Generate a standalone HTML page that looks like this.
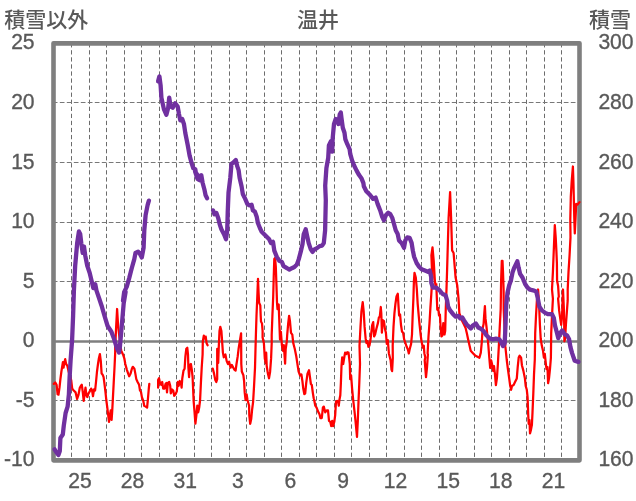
<!DOCTYPE html>
<html lang="ja"><head><meta charset="utf-8"><title>温井</title>
<style>
html,body{margin:0;padding:0;background:#fff;}
body{width:636px;height:501px;overflow:hidden;}
svg{display:block;}
text{font-family:"Liberation Sans","Noto Sans CJK JP",sans-serif;fill:#595959;}
.num{font-size:22px;stroke:#595959;stroke-width:0.35px;}
.jp{font-size:21px;font-weight:500;}
</style></head><body>
<svg width="636" height="501" viewBox="0 0 636 501">
<rect width="636" height="501" fill="#fff"/>

<g stroke="#6c6c6c" stroke-width="1" stroke-dasharray="4.3 2.76" fill="none" shape-rendering="auto">
<line x1="71.50" y1="43.15" x2="71.50" y2="460.4"/>
<line x1="89.50" y1="43.15" x2="89.50" y2="460.4"/>
<line x1="106.50" y1="43.15" x2="106.50" y2="460.4"/>
<line x1="124.50" y1="43.15" x2="124.50" y2="460.4"/>
<line x1="141.50" y1="43.15" x2="141.50" y2="460.4"/>
<line x1="159.50" y1="43.15" x2="159.50" y2="460.4"/>
<line x1="176.50" y1="43.15" x2="176.50" y2="460.4"/>
<line x1="194.50" y1="43.15" x2="194.50" y2="460.4"/>
<line x1="211.50" y1="43.15" x2="211.50" y2="460.4"/>
<line x1="229.50" y1="43.15" x2="229.50" y2="460.4"/>
<line x1="246.50" y1="43.15" x2="246.50" y2="460.4"/>
<line x1="264.50" y1="43.15" x2="264.50" y2="460.4"/>
<line x1="281.50" y1="43.15" x2="281.50" y2="460.4"/>
<line x1="299.50" y1="43.15" x2="299.50" y2="460.4"/>
<line x1="316.50" y1="43.15" x2="316.50" y2="460.4"/>
<line x1="334.50" y1="43.15" x2="334.50" y2="460.4"/>
<line x1="351.50" y1="43.15" x2="351.50" y2="460.4"/>
<line x1="369.50" y1="43.15" x2="369.50" y2="460.4"/>
<line x1="386.50" y1="43.15" x2="386.50" y2="460.4"/>
<line x1="404.50" y1="43.15" x2="404.50" y2="460.4"/>
<line x1="421.50" y1="43.15" x2="421.50" y2="460.4"/>
<line x1="439.50" y1="43.15" x2="439.50" y2="460.4"/>
<line x1="456.50" y1="43.15" x2="456.50" y2="460.4"/>
<line x1="474.50" y1="43.15" x2="474.50" y2="460.4"/>
<line x1="491.50" y1="43.15" x2="491.50" y2="460.4"/>
<line x1="509.50" y1="43.15" x2="509.50" y2="460.4"/>
<line x1="526.50" y1="43.15" x2="526.50" y2="460.4"/>
<line x1="544.50" y1="43.15" x2="544.50" y2="460.4"/>
<line x1="561.50" y1="43.15" x2="561.50" y2="460.4"/>
<line x1="52.8" y1="102.50" x2="579.5" y2="102.50" stroke="#787878" stroke-dasharray="4.7 2.3"/>
<line x1="52.8" y1="162.50" x2="579.5" y2="162.50" stroke="#787878" stroke-dasharray="4.7 2.3"/>
<line x1="52.8" y1="222.50" x2="579.5" y2="222.50" stroke="#787878" stroke-dasharray="4.7 2.3"/>
<line x1="52.8" y1="281.50" x2="579.5" y2="281.50" stroke="#787878" stroke-dasharray="4.7 2.3"/>
<line x1="52.8" y1="400.50" x2="579.5" y2="400.50" stroke="#787878" stroke-dasharray="4.7 2.3"/>
</g>
<rect x="53.5" y="43.35" width="526.0" height="417.0" fill="none" stroke="#7f7f7f" stroke-width="4.6" stroke-linejoin="round"/>
<line x1="53.5" y1="341.45" x2="579.5" y2="341.45" stroke="#7f7f7f" stroke-width="2.6"/>
<g fill="none" stroke="#ff0000" stroke-width="2.25" stroke-linejoin="round" stroke-linecap="round">
<polyline points="53.8,383.9 55.3,382.5 56.6,384.8 57.6,394.3 58.5,394.7 59.5,387.7 60.4,379.1 61.4,371.5 62.3,365.9 62.9,362.1 63.6,367.7 64.2,363.0 65.2,359.2 66.1,364.0 67.4,365.9 68.4,370.6 69.9,376.3 71.2,380.1 72.2,388.6 73.7,390.5 75.6,392.4 77.1,399.0 78.4,395.2 79.8,387.7 80.9,385.8 81.8,384.8 82.8,392.4 83.7,400.9 84.7,393.3 85.5,387.7 86.4,395.2 87.3,397.1 88.5,393.3 89.8,391.4 91.1,388.6 92.1,390.5 93.0,396.2 94.0,389.5 95.1,390.5 96.1,381.0 97.0,371.5 98.0,364.0 98.9,358.3 99.9,354.1 100.8,361.1 101.6,373.4 102.5,374.4 103.6,377.2 104.6,384.8 105.5,392.4 106.3,400.0 107.3,407.6 108.2,415.1 109.0,421.8 109.7,416.1 110.7,410.4 111.6,419.9 112.2,411.4 112.9,398.1 113.7,382.9 114.5,367.7 115.2,352.6 115.2,346.9 116.1,327.9 117.1,309.0 118.0,324.1 119.0,333.6 119.9,341.2 121.2,350.7 123.0,354.5 124.3,358.3 125.3,364.0 126.8,369.6 128.1,373.4 129.2,376.3 130.6,373.4 131.9,368.7 132.8,366.8 134.4,368.7 135.3,373.4 136.3,379.1 137.6,382.0 139.1,384.8 140.0,390.5 141.0,392.0 141.9,397.1 143.3,400.9 144.2,405.7 145.7,406.6 147.1,407.6 148.0,398.1 148.8,388.6 149.3,383.9"/>
<polyline points="158.1,387.7 158.1,380.1 159.0,378.2 160.0,382.9 161.3,384.8 162.2,382.0 163.2,388.6 164.5,388.6 165.5,383.9 166.4,382.9 167.0,392.4 167.9,382.9 169.2,382.0 170.2,385.8 170.8,393.3 172.1,389.5 173.2,390.5 174.2,395.8 175.5,394.3 176.8,391.4 177.8,382.0 178.7,385.8 179.7,381.0 180.8,382.0 181.6,387.7 182.3,378.2 183.5,370.6 184.6,368.7 185.4,356.4 186.3,348.8 187.3,347.8 188.0,354.5 188.4,367.7 189.1,377.2 189.9,364.9 190.9,364.0 191.8,369.6 192.6,377.2 193.1,388.6 193.7,401.9 194.5,411.4 195.4,423.7 196.4,415.1 197.3,405.7 198.2,412.3 199.2,407.6 200.1,400.0 200.9,382.9 201.7,367.7 202.6,354.5 202.8,341.4 203.8,335.7 204.7,338.5 205.7,336.6 206.6,343.3 207.6,345.2"/>
<polyline points="212.8,368.7 214.0,373.4 215.3,380.1 216.3,382.0 217.2,379.1 217.2,348.8 218.2,363.0 218.7,348.8 219.5,331.0 220.3,326.8 221.4,331.0 222.9,352.6 223.8,357.3 225.4,354.5 226.7,361.1 228.0,364.0 229.1,361.7 230.5,367.7 231.8,364.9 233.3,367.7 234.3,369.6 235.6,370.6 236.5,364.0 237.7,356.4 238.6,348.8 241.1,333.3 241.3,364.0 241.8,371.5 243.4,375.3 244.1,381.0 244.7,392.4 245.6,400.0 246.6,394.3 247.5,400.0 249.1,405.7 249.3,415.3 250.2,423.8 251.2,419.1 252.1,409.6 253.1,402.0 254.0,386.9 255.0,367.9 255.5,349.0 255.9,334.8 256.5,315.8 257.3,296.9 258.0,278.9 258.6,293.1 259.1,302.6 260.3,305.4 260.7,315.8 261.0,321.5 262.0,323.4 262.6,331.0 262.6,337.6 263.9,343.3 264.8,358.4 265.8,363.2 266.2,352.7 266.7,366.0 267.9,373.6 269.0,378.3 270.1,371.7 271.1,358.4 271.7,343.3 271.7,334.8 272.4,315.8 273.2,296.9 273.7,277.9 274.3,259.0 275.1,258.0 275.8,266.5 276.4,283.6 277.0,302.6 277.5,309.2 278.7,304.5 279.1,315.8 279.6,329.1 280.0,339.5 280.9,331.9 281.9,345.2 283.0,350.9 283.8,345.2 284.5,354.6 285.1,363.7 285.7,349.0 286.8,341.4 287.2,334.8 288.2,323.4 289.1,315.8 290.0,321.5 291.0,332.9 292.3,334.7 293.3,343.3 294.8,349.0 296.3,356.5 297.6,365.1 298.6,371.7 300.1,375.5 301.4,374.5 302.4,381.2 303.3,388.8 304.3,394.1 305.2,393.5 306.2,383.1 307.5,373.6 309.0,370.2 310.0,377.4 310.9,384.0 311.8,385.0 312.8,392.6 313.7,398.2 314.2,400.0 315.3,405.7 316.6,407.6 318.0,411.4 319.5,414.2 320.4,418.0 321.8,418.0 322.9,407.6 323.8,406.6 325.2,412.3 326.7,410.4 328.0,410.4 329.0,420.8 330.3,421.8 331.2,426.1 332.2,420.8 333.1,426.1 334.3,421.8 335.2,415.1 336.0,401.9 337.1,400.9 338.1,401.9 338.8,405.7 339.4,400.0 340.3,395.2 340.9,382.9 341.5,365.9 342.2,357.3 343.2,364.0 344.1,358.3 345.1,352.6 346.4,354.1 347.3,352.2 348.5,352.6 349.2,358.3 349.8,364.0 350.2,379.1 351.1,375.3 352.1,388.6 353.2,400.0 354.5,411.4 355.5,420.8 356.4,430.3 357.0,436.9 357.8,420.8 358.5,401.9 359.3,382.9 360.0,364.0 359.5,345.8 360.5,326.9 361.4,311.7 362.7,302.2 363.7,311.7 364.6,326.9 365.6,338.2 366.5,343.0 367.5,341.1 368.4,346.8 369.4,345.8 370.3,341.1 371.3,332.6 372.2,325.0 373.2,322.1 374.1,336.4 375.1,334.5 376.4,328.8 377.9,323.1 378.9,317.4 379.8,316.4 380.8,307.0 381.3,313.6 381.9,332.6 382.7,320.2 384.0,321.2 384.9,328.8 385.9,332.6 386.8,343.9 387.8,340.1 388.9,353.4 390.6,360.2 391.5,369.6 392.1,371.2 392.8,358.3 392.7,345.8 393.5,326.9 394.4,313.6 395.4,304.1 396.5,296.5 397.8,293.7 398.4,304.1 399.1,315.5 400.1,314.5 401.0,325.0 402.0,331.6 403.1,332.6 404.1,339.2 405.4,343.0 406.7,346.8 407.9,349.6 408.8,353.4 409.8,348.7 411.1,343.9 412.0,334.5 412.6,317.4 413.4,298.4 413.9,281.4 414.5,272.8 415.8,277.6 416.8,289.0 417.7,304.1 418.7,315.5 419.6,325.0 420.6,334.5 421.5,341.1 422.8,347.7 423.8,345.8 424.4,353.4 425.3,357.2 424.7,360.2 426.0,377.2 427.0,367.7 427.9,354.5 427.6,353.4 428.5,336.4 429.5,323.1 430.4,307.9 431.4,292.7 432.3,277.6 431.4,255.5 432.5,247.4 433.7,260.5 434.8,279.5 435.4,285.2 436.3,284.2 436.7,294.6 437.3,309.8 438.2,307.9 439.0,315.5 439.9,314.5 440.5,325.0 441.4,336.4 442.4,335.4 443.3,323.1 443.9,325.0 444.5,334.5 445.2,330.7 445.8,307.9 446.5,289.0 447.1,270.0 448.6,217.7 450.1,192.1 451.1,217.7 452.1,250.4 453.6,253.0 455.6,277.6 457.2,285.2 458.5,298.4 459.4,313.6 459.9,314.6 461.8,320.3 463.7,324.1 465.6,327.9 466.9,333.6 468.1,339.3 469.4,345.0 470.7,350.7 473.2,353.5 475.1,355.4 477.0,356.4 479.4,357.7 480.8,352.6 481.7,343.1 482.7,327.9 483.6,324.1 484.2,314.6 484.9,306.1 485.5,318.4 486.4,326.0 487.4,335.5 488.3,345.0 489.3,357.6 490.2,368.0 491.2,360.4 492.1,364.2 493.1,370.9 494.0,366.1 495.0,374.6 495.9,385.1 496.9,378.4 497.8,365.2 498.8,346.9 499.7,327.9 500.7,309.0 501.1,280.8 501.8,260.8 502.5,260.8 503.0,272.1 503.6,289.5 503.7,309.0 504.5,327.9 505.4,346.9 506.7,359.5 507.9,369.0 509.2,378.4 510.1,385.1 511.1,389.8 512.0,386.0 513.6,385.1 514.9,382.2 516.8,378.4 517.7,367.1 518.7,357.6 519.6,355.7 521.1,357.6 521.9,365.2 523.4,370.9 524.9,378.4 525.7,386.0 526.8,389.8 527.6,397.4 528.2,414.5 528.7,423.9 529.5,420.1 530.0,433.4 531.0,429.6 531.9,424.9 532.5,412.6 533.3,393.6 534.0,374.6 534.8,359.5 535.2,333.4 536.0,316.1 536.9,300.4 538.1,289.5 539.2,307.4 539.9,324.8 540.7,338.7 541.8,345.6 543.0,350.8 543.9,357.6 544.8,353.8 545.8,363.3 546.5,369.0 547.5,367.1 548.1,383.2 549.0,378.4 550.0,369.0 550.9,357.6 551.2,333.4 552.0,316.1 552.9,298.7 552.0,289.5 552.9,272.1 553.6,254.8 554.3,237.4 554.8,225.2 555.7,237.4 556.4,251.3 556.9,263.4 557.1,280.8 558.1,286.0 558.8,296.5 558.1,298.7 559.2,310.9 560.4,319.5 561.2,324.8 562.1,316.1 562.6,298.7 563.0,289.5 563.8,307.4 564.2,324.8 564.4,341.3 565.1,338.7 565.9,324.8 566.8,312.6 567.7,300.4 567.7,289.5 568.5,272.1 569.6,254.8 570.5,237.4 570.3,219.5 570.8,196.9 571.7,181.3 572.9,166.5 573.4,181.3 573.9,202.1 574.4,223.0 574.8,233.4 575.5,219.5 576.2,203.9 577.4,204.7 579.5,202.1"/>
</g>
<g fill="none" stroke="#7030a0" stroke-width="4.3" stroke-linejoin="round" stroke-linecap="round">
<polyline points="54.6,449.3 56.5,452.5 58.4,455.0 59.8,451.0 60.4,438.0 62.8,434.5 63.8,425.5 65.6,413.0 67.6,406.7 68.9,394.1 69.6,377.7 70.6,360.1 72.1,340.0 73.1,315.8 73.9,290.6 75.2,265.5 77.2,242.8 78.9,231.5 80.2,234.0 81.4,244.1 82.7,252.9 84.0,246.6 85.2,255.4 87.2,265.5 89.7,273.0 91.5,280.6 93.3,288.1 95.3,284.3 96.5,290.6 99.1,298.2 101.6,305.7 104.1,314.5 107.6,326.0 111.4,331.7 114.2,339.3 117.1,348.8 119.0,352.6 119.9,346.9 120.9,335.5 122.4,318.4 123.7,303.3 125.6,291.9 123.0,300.7 124.2,291.9 126.7,286.9 129.2,278.1 131.8,268.0 134.3,259.2 135.5,252.9 138.1,251.6 140.1,254.2 141.8,257.4 143.6,247.9 144.3,230.3 145.6,215.2 147.6,205.1 148.9,200.6"/>
<polyline points="158.1,81.4 159.4,76.4 160.6,85.2 161.4,97.7 163.9,109.1 166.4,114.8 168.2,107.8 169.2,97.7 170.7,106.5 172.7,107.8 175.2,103.3 177.7,106.5 179.0,114.1 180.3,120.4 182.3,119.1 184.0,124.2 185.3,133.0 187.8,145.5 189.6,155.6 191.6,163.1 193.3,168.2 195.3,169.4 196.6,177.0 198.4,179.5 200.4,175.7 201.6,180.8 195.0,171.4 197.5,178.9 199.6,180.2 201.3,175.2 202.6,182.7 204.6,190.3 205.6,195.3 207.1,198.3"/>
<polyline points="213.1,210.4 214.4,214.2 216.4,212.9 218.2,217.9 219.7,224.2 221.4,229.2 224.0,234.3 226.0,239.3 227.2,230.5 227.7,212.9 228.5,192.8 230.3,177.7 231.5,163.8 233.3,162.6 235.8,160.1 237.3,166.4 238.6,170.1 239.6,177.7 241.6,186.5 242.8,194.0 245.3,199.1 247.4,204.1 249.1,205.3 251.6,204.8 252.9,210.4 254.9,211.6 256.7,216.7 257.9,223.0 259.9,228.0 261.7,231.8 264.2,234.3 266.7,236.8 269.2,239.3 271.0,243.1 273.0,241.8 274.3,250.6 276.8,256.9 279.3,260.7 281.8,261.9 283.6,266.2 286.9,268.2 289.4,269.5 291.9,268.2 294.4,267.0 296.9,264.5 298.7,259.4 300.7,251.9 302.5,244.3 303.7,234.3 305.7,229.2 307.0,235.5 308.7,243.1 310.8,249.4 312.5,251.9 314.5,249.4 317.0,248.1 319.6,246.1 322.1,245.6 323.8,243.1 325.1,230.5 325.8,200.3 325.2,185.7 326.4,168.1 328.2,158.0 328.9,145.4 330.7,141.6 332.2,151.7 332.7,137.9 334.0,124.0 335.7,119.0 337.7,121.5 338.5,124.0 339.7,114.5 340.8,112.5 341.5,118.2 342.8,127.8 344.5,132.8 345.3,139.1 347.3,144.2 349.6,149.2 350.3,154.2 352.1,160.5 354.1,165.5 356.6,170.6 359.1,175.1 361.6,178.6 363.4,183.1 363.8,186.3 366.3,191.3 370.1,195.1 373.1,198.9 375.6,197.6 377.6,203.9 380.1,210.2 382.1,216.5 383.9,220.3 385.9,215.2 388.2,212.7 390.2,214.0 392.2,217.7 394.0,224.0 395.7,230.3 397.7,234.1 399.0,240.4 401.5,242.9 404.0,247.9 405.3,240.4 407.3,237.4 409.6,237.9 411.6,242.9 412.8,250.4 414.1,256.7 416.6,263.0 419.1,266.8 421.6,269.3 424.9,270.6 427.9,271.8 429.7,270.6 431.2,276.9 431.3,282.7 433.0,287.7 436.3,287.7 439.6,290.3 442.6,294.0 445.6,295.3 447.1,300.3 448.1,306.6 450.1,310.4 453.1,314.2 455.7,316.7 458.2,315.9 460.2,318.4 462.2,317.4 464.0,320.4 466.5,324.2 469.0,326.7 470.8,328.5 472.8,325.5 475.8,323.5 478.3,327.5 481.6,329.2 484.1,331.8 486.6,335.5 489.9,338.6 492.9,339.3 495.9,338.6 499.2,339.3 500.9,341.8 503.0,346.1 504.7,343.1 505.5,325.5 506.2,305.3 507.5,292.8 509.2,285.2 511.0,280.2 512.5,272.6 514.3,267.6 517.3,261.3 518.6,267.6 520.1,273.9 522.6,277.7 525.1,284.0 527.6,287.7 530.1,289.7 533.1,290.3 536.2,291.5 537.7,297.8 539.4,306.6 541.9,310.4 545.2,312.9 548.2,314.2 552.0,314.2 553.8,317.9 555.0,325.5 557.0,333.0 558.3,338.1 560.1,333.0 562.1,330.5 564.6,334.3 567.1,335.5 569.1,339.3 570.4,346.9 572.1,353.1 574.7,360.7 578.4,361.9"/>
</g>
<g class="num" text-anchor="end">
<text transform="translate(34.6,49.4) scale(0.96,1)">25</text>
<text transform="translate(34.6,108.9) scale(0.96,1)">20</text>
<text transform="translate(34.6,168.5) scale(0.96,1)">15</text>
<text transform="translate(34.6,228.1) scale(0.96,1)">10</text>
<text transform="translate(34.6,287.7) scale(0.96,1)">5</text>
<text transform="translate(34.6,347.2) scale(0.96,1)">0</text>
<text transform="translate(34.6,406.8) scale(0.96,1)">-5</text>
<text transform="translate(34.6,466.4) scale(0.96,1)">-10</text>
</g>
<g class="num" text-anchor="end">
<text transform="translate(633.6,49.4) scale(0.96,1)">300</text>
<text transform="translate(633.6,108.9) scale(0.96,1)">280</text>
<text transform="translate(633.6,168.5) scale(0.96,1)">260</text>
<text transform="translate(633.6,228.1) scale(0.96,1)">240</text>
<text transform="translate(633.6,287.7) scale(0.96,1)">220</text>
<text transform="translate(633.6,347.2) scale(0.96,1)">200</text>
<text transform="translate(633.6,406.8) scale(0.96,1)">180</text>
<text transform="translate(633.6,466.4) scale(0.96,1)">160</text>
</g>
<g class="num" text-anchor="middle">
<text transform="translate(80.0,488.3) scale(0.96,1)">25</text>
<text transform="translate(132.6,488.3) scale(0.96,1)">28</text>
<text transform="translate(185.2,488.3) scale(0.96,1)">31</text>
<text transform="translate(237.8,488.3) scale(0.96,1)">3</text>
<text transform="translate(290.4,488.3) scale(0.96,1)">6</text>
<text transform="translate(343.0,488.3) scale(0.96,1)">9</text>
<text transform="translate(395.6,488.3) scale(0.96,1)">12</text>
<text transform="translate(448.2,488.3) scale(0.96,1)">15</text>
<text transform="translate(500.8,488.3) scale(0.96,1)">18</text>
<text transform="translate(553.4,488.3) scale(0.96,1)">21</text>
</g>
<g class="jp">
<text x="4.3" y="26.6">積雪以外</text>
<text x="317.9" y="26.6" text-anchor="middle">温井</text>
<text x="631" y="26.6" text-anchor="end">積雪</text>
</g>
</svg></body></html>
